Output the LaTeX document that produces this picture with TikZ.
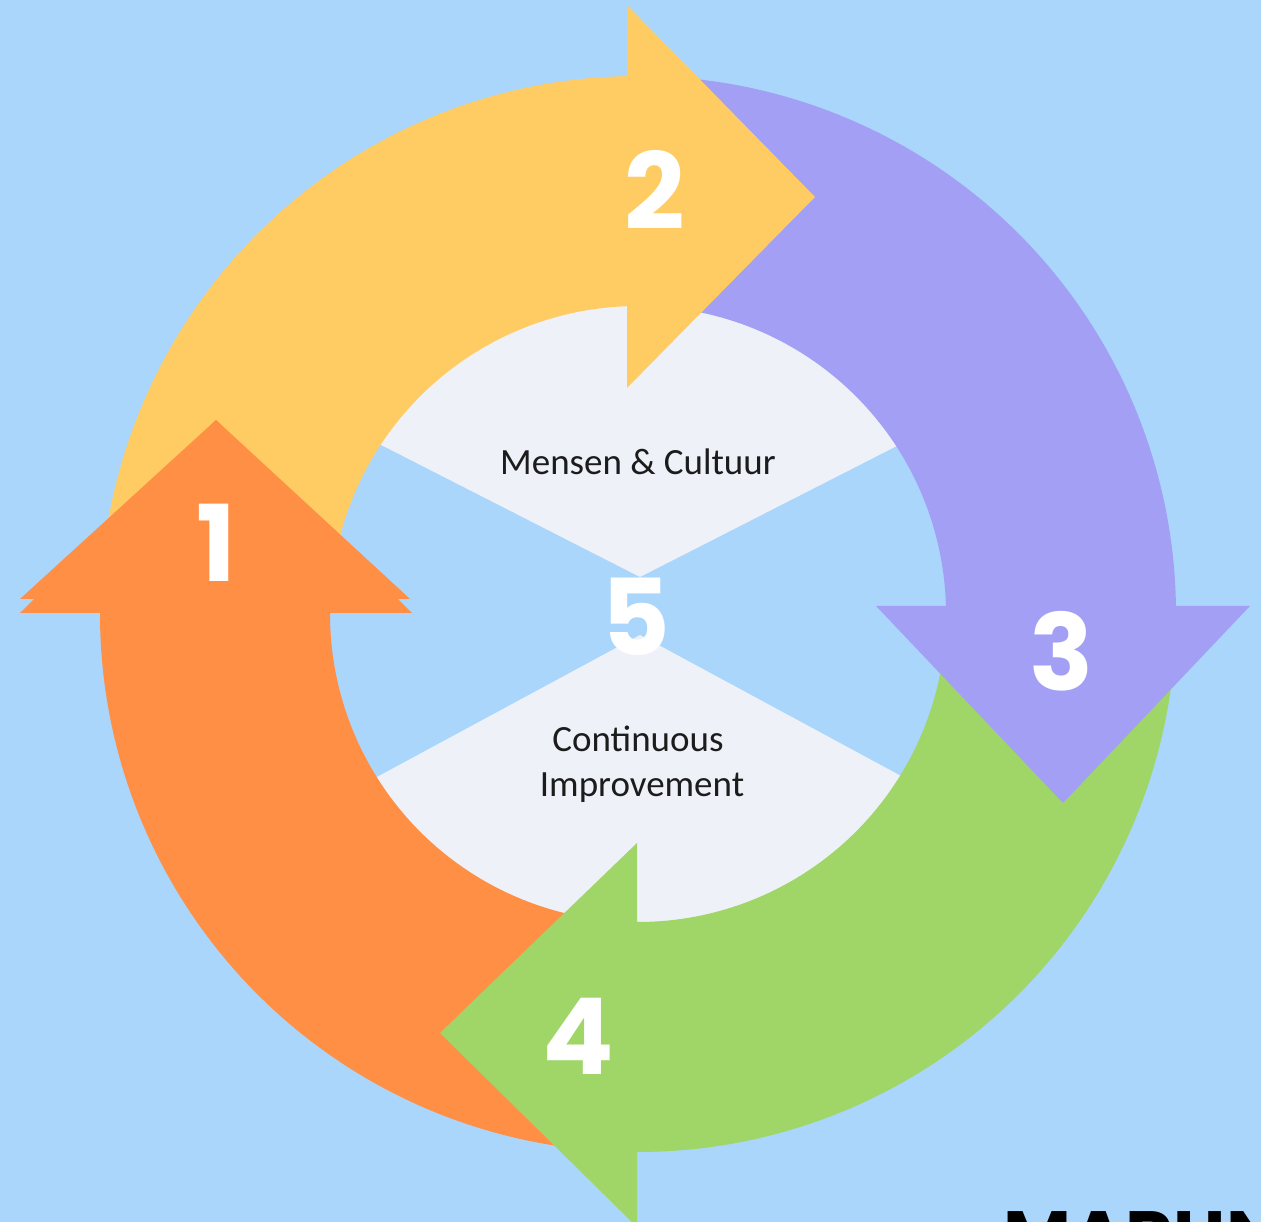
\documentclass[tikz,border=0pt]{standalone}
\usepackage{fontspec}
\setmainfont{Carlito}
\newfontfamily\numfont{Poppins}
\definecolor{bgblue}{RGB}{170,214,252}
\definecolor{cyellow}{RGB}{254,204,98}
\definecolor{cpurple}{RGB}{162,159,244}
\definecolor{corange}{RGB}{255,143,68}
\definecolor{cgreen}{RGB}{160,213,104}
\definecolor{clight}{RGB}{238,242,248}
\definecolor{ctext}{RGB}{28,28,28}
\newcommand\ringseg[3]{\fill[#1] (#2:308) -- (#2:538) arc[start angle=#2,end angle=#3,radius=538] -- (#3:308) arc[start angle=#3,end angle=#2,radius=308] -- cycle;}
\tikzset{
  numlabel/.style={text=white,inner sep=0pt,font=\numfont\bfseries\fontsize{106}{106}\selectfont},
  caption/.style={text=ctext,inner sep=0pt,anchor=base,font=\fontsize{37}{42}\selectfont}
}
\begin{document}
\begin{tikzpicture}[x=1pt,y=1pt]
\fill[bgblue] (0,0) rectangle (1261,1222);
\useasboundingbox (0,0) rectangle (1261,1222);
\begin{scope}[shift={(638,608)}]
  % centre
  \begin{scope}
    \clip (3,0) circle[radius=311];
    \fill[clight] (2,37) -- (-400,242) -- (-400,400) -- (400,400) -- (400,240) -- cycle;
    \fill[clight] (2,-21) -- (-400,-238) -- (-400,-400) -- (400,-400) -- (400,-236) -- cycle;
  \end{scope}
  % shafts
  \ringseg{corange}{270}{178}
  \ringseg{cyellow}{179}{88}
  \ringseg{cpurple}{91}{-2}
  \ringseg{cgreen}{0}{-92}
  % heads
  \fill[corange] (-618,15) -- (-228,15) -- (-422,194) -- cycle;
  \fill[corange] (-618,1) -- (-226,1) -- (-422,194) -- cycle;
  \fill[cyellow] (-11,609) -- (-11,226) -- (177,417) -- cycle;
  \fill[cpurple] (238,8) -- (612,8) -- (425,-189) -- cycle;
  \fill[cgreen] (-1,-229) -- (-1,-613) -- (-198,-419) -- cycle;
  % labels
  \node[numlabel] (n1) at (-422,71) {1};
  \node[numlabel] (n2) at (17,424) {2};
  \node[numlabel] (n3) at (424,-37) {3};
  \node[numlabel] (n4) at (-60,-422) {4};
  \node[numlabel] (n5) at (-2,-3) {5};
  \node[caption] (mc) at (0,139) {Mensen \& Cultuur};
  \node[caption] (ci1) at (0,-138) {Continuous};
  \node[caption] (ci2) at (4,-183) {Improvement};
\end{scope}
\node[anchor=north west,inner sep=0pt,text=black,font=\numfont\bfseries\fontsize{74}{74}\selectfont] (brand) at (1003,11) {MARUN};
\end{tikzpicture}
\end{document}
